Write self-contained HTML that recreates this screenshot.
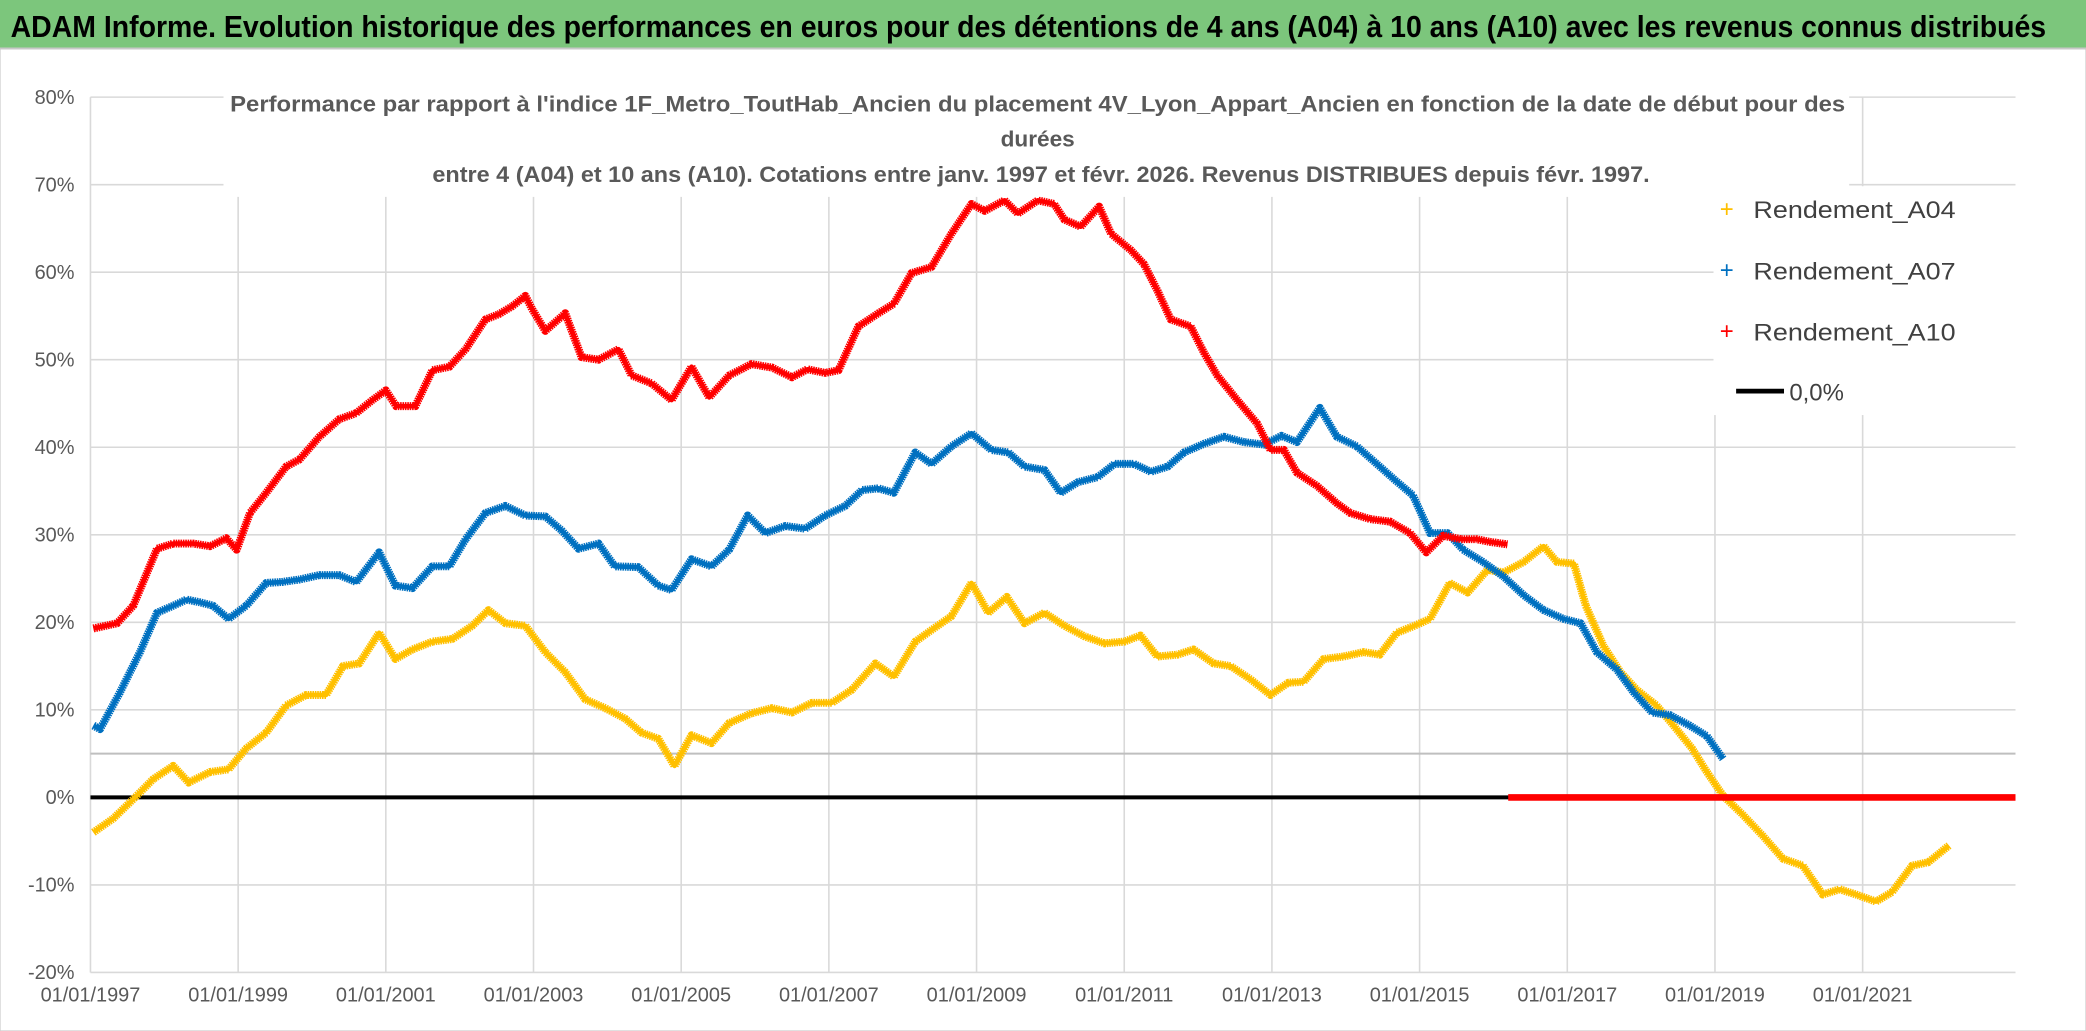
<!DOCTYPE html>
<html><head><meta charset="utf-8"><style>
html,body{margin:0;padding:0;background:#fff;}
svg{display:block;font-family:"Liberation Sans",sans-serif;}
</style></head><body>
<svg id="chart" width="2086" height="1031" viewBox="0 0 1568 775" preserveAspectRatio="none" xmlns="http://www.w3.org/2000/svg">
<rect x="0" y="0" width="1568" height="775" fill="#fff" stroke="#d0d0d0" stroke-width="1"/>
<rect x="0" y="0" width="1568" height="36" fill="#7cc67c"/>
<line x1="0" y1="36.5" x2="1568" y2="36.5" stroke="#c8c8c8" stroke-width="1.5"/>
<text x="8" y="28" font-size="23" font-weight="bold" fill="#000" textLength="1530" lengthAdjust="spacingAndGlyphs">ADAM Informe. Evolution historique des performances en euros pour des détentions de 4 ans (A04) à 10 ans (A10) avec les revenus connus distribués</text>
<g id="grid"></g>
<g id="axes"></g>
<g id="series"></g>
<rect x="168" y="58" width="1222" height="90" fill="#fff"/>
<g fill="#595959" font-size="17" font-weight="bold">
<text x="173" y="84" textLength="1214" lengthAdjust="spacingAndGlyphs">Performance par rapport à l'indice 1F_Metro_ToutHab_Ancien  du placement 4V_Lyon_Appart_Ancien en fonction de la date de début pour des</text>
<text x="780" y="110" text-anchor="middle">durées</text>
<text x="325" y="137" textLength="915" lengthAdjust="spacingAndGlyphs">entre 4 (A04) et 10 ans (A10). Cotations entre janv. 1997 et févr. 2026. Revenus DISTRIBUES depuis févr. 1997.</text>
</g>
<g>
<rect x="1288" y="140" width="232" height="172" fill="#fff"/>
<g><text x="1298" y="163" fill="#ffc000" font-size="18" text-anchor="middle">+</text><text x="1318" y="164" font-size="18" fill="#404040" textLength="152" lengthAdjust="spacingAndGlyphs">Rendement_A04</text></g>
<g><text x="1298" y="209" fill="#0070c0" font-size="18" text-anchor="middle">+</text><text x="1318" y="210" font-size="18" fill="#404040" textLength="152" lengthAdjust="spacingAndGlyphs">Rendement_A07</text></g>
<g><text x="1298" y="255" fill="#ff0000" font-size="18" text-anchor="middle">+</text><text x="1318" y="256" font-size="18" fill="#404040" textLength="152" lengthAdjust="spacingAndGlyphs">Rendement_A10</text></g>
<g><line x1="1305" y1="294" x2="1341" y2="294" stroke="#000" stroke-width="3.5"/><text x="1345" y="301" font-size="18" fill="#404040">0,0%</text></g>
</g>
</svg>
<script>
const yTicks=[-20,-10,0,10,20,30,40,50,60,70,80];
const xTickYears=[1997,1999,2001,2003,2005,2007,2009,2011,2013,2015,2017,2019,2021];
const a10Years=[1997.04,1997.36,1997.58,1997.90,1998.12,1998.39,1998.62,1998.84,1998.98,1999.16,1999.38,1999.65,1999.83,2000.10,2000.37,2000.60,2000.82,2001.00,2001.14,2001.40,2001.63,2001.86,2002.08,2002.35,2002.53,2002.71,2002.89,2002.98,2003.16,2003.43,2003.65,2003.88,2004.15,2004.33,2004.60,2004.87,2005.14,2005.38,2005.65,2005.95,2006.23,2006.50,2006.71,2006.95,2007.13,2007.40,2007.67,2007.88,2008.12,2008.39,2008.66,2008.93,2009.11,2009.38,2009.56,2009.83,2010.05,2010.19,2010.41,2010.66,2010.82,2011.09,2011.27,2011.45,2011.63,2011.90,2012.08,2012.26,2012.53,2012.80,2012.98,2013.16,2013.34,2013.61,2013.88,2014.06,2014.33,2014.60,2014.87,2015.09,2015.32,2015.56,2015.77,2015.95,2016.19];
const a10Values=[19.3,19.9,21.9,28.4,29.0,29.0,28.7,29.6,28.3,32.5,34.8,37.8,38.6,41.2,43.2,43.9,45.4,46.5,44.7,44.7,48.8,49.2,51.2,54.6,55.2,56.1,57.3,55.8,53.3,55.3,50.3,50.0,51.2,48.2,47.3,45.4,49.2,45.7,48.2,49.5,49.1,48.0,48.9,48.5,48.8,53.8,55.3,56.4,59.9,60.6,64.4,67.8,67.0,68.2,66.7,68.2,67.8,66.0,65.2,67.5,64.4,62.5,60.9,57.9,54.6,53.8,50.8,48.2,45.4,42.7,39.7,39.7,37.1,35.6,33.6,32.5,31.8,31.5,30.2,28.0,29.9,29.5,29.5,29.2,28.9];
const a07Years=[1997.04,1997.13,1997.40,1997.67,1997.90,1998.12,1998.30,1998.48,1998.66,1998.87,1999.11,1999.38,1999.59,1999.83,2000.10,2000.37,2000.60,2000.91,2001.13,2001.36,2001.63,2001.86,2002.08,2002.35,2002.62,2002.89,2003.16,2003.38,2003.61,2003.88,2004.10,2004.42,2004.69,2004.87,2005.14,2005.41,2005.65,2005.90,2006.14,2006.41,2006.68,2006.95,2007.22,2007.45,2007.67,2007.88,2008.17,2008.39,2008.66,2008.93,2009.20,2009.43,2009.65,2009.92,2010.14,2010.37,2010.64,2010.87,2011.13,2011.36,2011.59,2011.81,2012.08,2012.35,2012.62,2012.89,2013.13,2013.34,2013.65,2013.88,2014.15,2014.42,2014.66,2014.91,2015.14,2015.38,2015.59,2015.86,2016.14,2016.41,2016.68,2016.95,2017.18,2017.40,2017.67,2017.90,2018.15,2018.39,2018.66,2018.89,2019.11];
const a07Values=[8.2,7.8,12.0,16.6,21.1,21.9,22.6,22.3,21.9,20.4,21.9,24.5,24.6,24.9,25.4,25.4,24.6,28.0,24.2,23.9,26.4,26.4,29.5,32.5,33.3,32.2,32.1,30.5,28.4,29.0,26.4,26.3,24.2,23.7,27.2,26.4,28.3,32.2,30.2,31.0,30.7,32.2,33.3,35.1,35.3,34.8,39.4,38.1,40.1,41.6,39.7,39.4,37.8,37.4,34.8,36.0,36.6,38.1,38.1,37.2,37.8,39.4,40.4,41.2,40.6,40.3,41.3,40.6,44.5,41.2,40.1,38.1,36.3,34.5,30.2,30.2,28.3,26.9,25.2,23.1,21.4,20.4,19.9,16.6,14.6,12.0,9.7,9.4,8.2,7.0,4.4];
const a04Years=[1997.04,1997.31,1997.58,1997.85,1998.12,1998.33,1998.62,1998.87,1999.11,1999.38,1999.65,1999.92,2000.19,2000.42,2000.64,2000.91,2001.13,2001.36,2001.63,2001.90,2002.17,2002.39,2002.62,2002.89,2003.16,2003.43,2003.70,2003.97,2004.24,2004.46,2004.69,2004.91,2005.14,2005.41,2005.65,2005.95,2006.23,2006.50,2006.77,2007.04,2007.31,2007.63,2007.88,2008.17,2008.42,2008.66,2008.93,2009.16,2009.41,2009.65,2009.92,2010.19,2010.46,2010.73,2011.00,2011.22,2011.45,2011.72,2011.94,2012.21,2012.44,2012.71,2012.98,2013.22,2013.43,2013.70,2013.97,2014.24,2014.46,2014.69,2014.93,2015.14,2015.41,2015.65,2015.92,2016.14,2016.41,2016.68,2016.86,2017.09,2017.25,2017.49,2017.72,2017.94,2018.21,2018.44,2018.69,2018.89,2019.11,2019.38,2019.65,2019.92,2020.19,2020.46,2020.69,2020.91,2021.18,2021.40,2021.67,2021.89,2022.17];
const a04Values=[-4.0,-2.4,-0.2,2.1,3.6,1.7,2.9,3.2,5.6,7.4,10.5,11.7,11.7,15.0,15.3,18.8,15.8,16.9,17.8,18.1,19.6,21.4,19.9,19.6,16.6,14.3,11.2,10.2,9.0,7.4,6.7,3.6,7.1,6.2,8.5,9.6,10.2,9.7,10.8,10.8,12.3,15.3,13.8,17.8,19.3,20.7,24.5,21.1,22.9,19.9,21.1,19.6,18.4,17.6,17.8,18.5,16.1,16.3,16.9,15.3,15.0,13.5,11.7,13.1,13.2,15.8,16.1,16.6,16.3,18.8,19.6,20.4,24.5,23.4,26.0,25.7,26.9,28.7,26.9,26.7,21.9,17.3,14.3,12.3,10.5,8.2,5.6,2.9,0.2,-2.0,-4.4,-7.0,-7.8,-11.1,-10.5,-11.1,-11.9,-10.8,-7.8,-7.4,-5.5];
const zeroRedYears=[2016.2,2023.07];
const zeroRedValues=[0,0];
const refLineValue=5;

const NS="http://www.w3.org/2000/svg";
const X0=68,X1=1515,Y_TOP=73,Y_BOT=731,YMIN=-20,YMAX=80,T0=1997,T1=2023.07;
function xs(t){return X0+(t-T0)/(T1-T0)*(X1-X0);}
function ys(v){return Y_BOT-(v-YMIN)/(YMAX-YMIN)*(Y_BOT-Y_TOP);}
function mk(tag,attrs,parent){const e=document.createElementNS(NS,tag);for(const k in attrs)e.setAttribute(k,attrs[k]);parent.appendChild(e);return e;}
const grid=document.getElementById('grid'),axes=document.getElementById('axes'),series=document.getElementById('series');
yTicks.forEach(v=>{
  const l=mk('line',{x1:X0,x2:X1,y1:ys(v),y2:ys(v),stroke:'#d9d9d9','stroke-width':1.2},grid);
  
  
  const t=mk('text',{x:56,y:ys(v)+5,'text-anchor':'end','font-size':15,fill:'#595959'},axes);
  t.textContent=v+'%';
  
  
});
xTickYears.forEach(yr=>{
  const l=mk('line',{x1:xs(yr),x2:xs(yr),y1:Y_TOP,y2:Y_BOT,stroke:'#d9d9d9','stroke-width':1.2},grid);
  
  
  const t=mk('text',{x:xs(yr),y:753,'text-anchor':'middle','font-size':15,fill:'#595959'},axes);
  t.textContent='01/01/'+yr;
  
  
});
const ref=mk('line',{x1:X0,x2:X1,y1:ys(refLineValue),y2:ys(refLineValue),stroke:'#bfbfbf','stroke-width':1.5},grid);


const zl=mk('line',{x1:X0,x2:X1,y1:ys(0),y2:ys(0),stroke:'#000','stroke-width':3},series);


function drawSeries(years,vals,color,name){
  const pts=years.map((t,i)=>xs(t).toFixed(1)+','+ys(vals[i]).toFixed(1)).join(' ');
  const p=mk('polyline',{points:pts,fill:'none',stroke:color,'stroke-width':6,'stroke-linejoin':'round','stroke-dasharray':'1.2 0.6'},series);
  
  
  const p2=mk('polyline',{points:pts,fill:'none',stroke:color,'stroke-width':3.5,'stroke-linejoin':'round'},series);
  
  
}
drawSeries(a04Years,a04Values,'#ffc000','series-a04');
drawSeries(a07Years,a07Values,'#0070c0','series-a07');
drawSeries(a10Years,a10Values,'#ff0000','series-a10');
const zr=mk('line',{x1:xs(zeroRedYears[0]),x2:xs(zeroRedYears[1]),y1:ys(zeroRedValues[0]),y2:ys(zeroRedValues[1]),stroke:'#ff0000','stroke-width':5},series);


</script>
</body></html>
